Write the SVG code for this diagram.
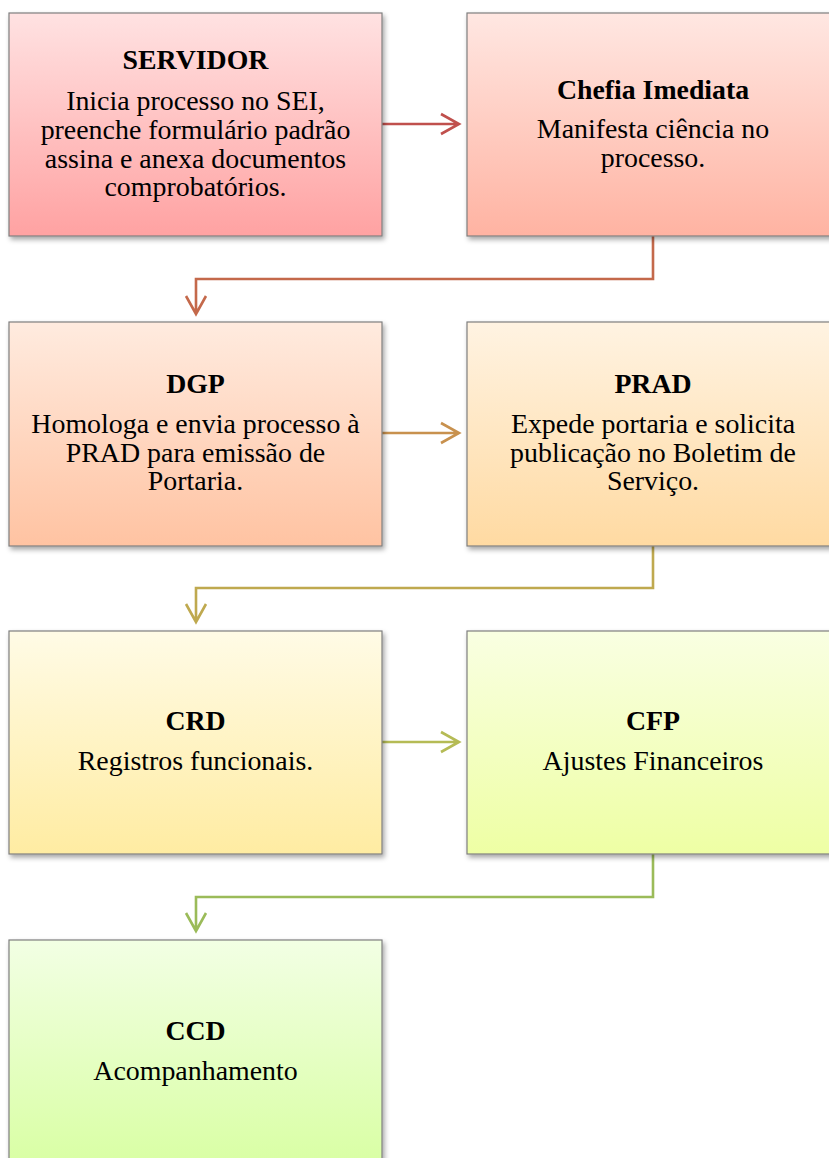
<svg xmlns="http://www.w3.org/2000/svg" width="829" height="1158" viewBox="0 0 829 1158">
<style>
.box{stroke:#7f7f7f;stroke-width:1.2;filter:url(#sh)}
.t{font-family:"Liberation Serif","Times New Roman",serif;font-weight:bold;font-size:27.8px;fill:#000;text-anchor:middle}
.b{font-family:"Liberation Serif","Times New Roman",serif;font-size:27.9px;fill:#000;text-anchor:middle}
.c{fill:none;stroke-width:2.6}
</style>
<defs>
<filter id="sh" x="-5%" y="-5%" width="115%" height="115%"><feDropShadow dx="2" dy="3" stdDeviation="2.5" flood-color="#000" flood-opacity="0.35"/></filter>
<linearGradient id="g1" x1="0" y1="0" x2="0" y2="1"><stop offset="0" stop-color="#ffe2e2"/><stop offset="1" stop-color="#ffa2a2"/></linearGradient>
<linearGradient id="g2" x1="0" y1="0" x2="0" y2="1"><stop offset="0" stop-color="#ffe7e2"/><stop offset="1" stop-color="#ffb3a2"/></linearGradient>
<linearGradient id="g3" x1="0" y1="0" x2="0" y2="1"><stop offset="0" stop-color="#ffebdf"/><stop offset="1" stop-color="#ffc3a2"/></linearGradient>
<linearGradient id="g4" x1="0" y1="0" x2="0" y2="1"><stop offset="0" stop-color="#fff3e2"/><stop offset="1" stop-color="#ffdaa2"/></linearGradient>
<linearGradient id="g5" x1="0" y1="0" x2="0" y2="1"><stop offset="0" stop-color="#fffbe6"/><stop offset="1" stop-color="#ffeca2"/></linearGradient>
<linearGradient id="g6" x1="0" y1="0" x2="0" y2="1"><stop offset="0" stop-color="#f9ffe2"/><stop offset="1" stop-color="#eeffa4"/></linearGradient>
<linearGradient id="g7" x1="0" y1="0" x2="0" y2="1"><stop offset="0" stop-color="#f2ffe4"/><stop offset="1" stop-color="#d9ffa4"/></linearGradient>
</defs>
<g id="connectors">
<path class="c" stroke="#c0504d" d="M382 124H458M441 114L459 124L441 134"/>
<path class="c" stroke="#c4694b" d="M653 236V279H196V313M186 296L196 314L206 296"/>
<path class="c" stroke="#c8914e" d="M382 433H458M441 423L459 433L441 443"/>
<path class="c" stroke="#bfa94f" d="M653 546V588H196V621M186 604L196 622L206 604"/>
<path class="c" stroke="#b5bb55" d="M382 742H458M441 732L459 742L441 752"/>
<path class="c" stroke="#9bbb59" d="M653 854V897H196V930M186 913L196 931L206 913"/>
</g>
<g id="servidor">
<rect class="box" x="9" y="13" width="373" height="223" fill="url(#g1)"/>
<text class="t" x="195.5" y="69">SERVIDOR</text>
<text class="b" x="195.5" y="110">Inicia processo no SEI,</text>
<text class="b" x="195.5" y="139">preenche formulário padrão</text>
<text class="b" x="195.5" y="168">assina e anexa documentos</text>
<text class="b" x="195.5" y="196">comprobatórios.</text>
</g>
<g id="chefia">
<rect class="box" x="467" y="13" width="373" height="223" fill="url(#g2)"/>
<text class="t" x="653" y="99">Chefia Imediata</text>
<text class="b" x="653" y="138">Manifesta ciência no</text>
<text class="b" x="653" y="167">processo.</text>
</g>
<g id="dgp">
<rect class="box" x="9" y="322" width="373" height="224" fill="url(#g3)"/>
<text class="t" x="195.5" y="393">DGP</text>
<text class="b" x="195.5" y="433">Homologa e envia processo à</text>
<text class="b" x="195.5" y="462">PRAD para emissão de</text>
<text class="b" x="195.5" y="490">Portaria.</text>
</g>
<g id="prad">
<rect class="box" x="467" y="322" width="373" height="224" fill="url(#g4)"/>
<text class="t" x="653" y="393">PRAD</text>
<text class="b" x="653" y="433">Expede portaria e solicita</text>
<text class="b" x="653" y="462">publicação no Boletim de</text>
<text class="b" x="653" y="490">Serviço.</text>
</g>
<g id="crd">
<rect class="box" x="9" y="631" width="373" height="223" fill="url(#g5)"/>
<text class="t" x="195.5" y="730">CRD</text>
<text class="b" x="195.5" y="770">Registros funcionais.</text>
</g>
<g id="cfp">
<rect class="box" x="467" y="631" width="373" height="223" fill="url(#g6)"/>
<text class="t" x="653" y="730">CFP</text>
<text class="b" x="653" y="770">Ajustes Financeiros</text>
</g>
<g id="ccd">
<rect class="box" x="9" y="940" width="373" height="225" fill="url(#g7)"/>
<text class="t" x="195.5" y="1040">CCD</text>
<text class="b" x="195.5" y="1080">Acompanhamento</text>
</g>
</svg>
